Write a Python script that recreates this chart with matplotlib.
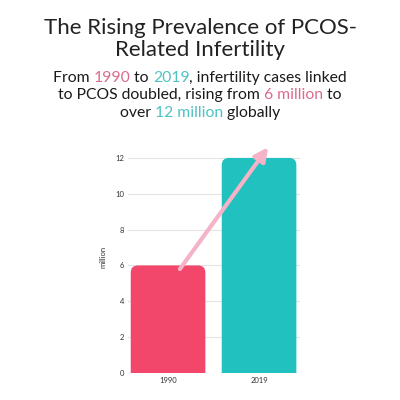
import matplotlib.pyplot as plt
from matplotlib.patches import FancyBboxPatch
from matplotlib.offsetbox import TextArea, HPacker, VPacker, AnchoredOffsetbox

years = ['1990', '2019']
cases = [6, 12]
bar_colors = ['#F2476A', '#20C1BE']
yticks = [0, 2, 4, 6, 8, 10, 12]

pink_txt = '#DB6C8C'
teal_txt = '#4DC3C3'
dark = '#1a1a1a'

plt.rcParams['font.family'] = ['Lato', 'DejaVu Sans']

fig = plt.figure(figsize=(4, 4), dpi=100)
ax = fig.add_axes([0.32, 0.0675, 0.43, 0.5825])

bars = ax.bar([0, 1], cases, width=0.82, color=bar_colors, zorder=2)
# swap plain bars for ones with rounded tops
for b in bars:
    x, w, h = b.get_x(), b.get_width(), b.get_height()
    b.set_visible(False)
    p = FancyBboxPatch((x, -1), w, h + 1, boxstyle='round,pad=0,rounding_size=0.08',
                       mutation_aspect=5, facecolor=b.get_facecolor(),
                       edgecolor='none', zorder=2)
    ax.add_patch(p)

ax.annotate('', xy=(1.1, 12.6), xytext=(0.13, 5.8),
            arrowprops=dict(arrowstyle='-|>,head_length=0.8,head_width=0.4',
                            color='#F4B3C6', lw=3, shrinkA=0, shrinkB=0),
            zorder=3)

ax.set_xlim(-0.44, 1.45)
ax.set_ylim(0, 13)
ax.set_xticks([0, 1])
ax.set_xticklabels(years)
ax.set_yticks(yticks)
ax.tick_params(length=0, labelsize=5.5, colors='#333333', pad=3)
ax.set_ylabel('million', fontsize=5.5, color='#333333', labelpad=6)
ax.grid(axis='y', color='#e3e3e3', lw=0.8, zorder=0)
ax.set_axisbelow(True)
for s in ax.spines.values():
    s.set_visible(False)

# title
fig.text(0.5, 0.902, 'The Rising Prevalence of PCOS-\nRelated Infertility', ha='center',
         va='center', fontsize=16, fontweight='normal', color='#222222', linespacing=1.12)

# subtitle with coloured words
def t(s, c=dark):
    return TextArea(s, textprops=dict(fontsize=11.3, color=c))

lines = [
    [t('From '), t('1990', pink_txt), t(' to '), t('2019', teal_txt), t(', infertility cases linked')],
    [t('to PCOS doubled, rising from '), t('6 million', pink_txt), t(' to')],
    [t('over '), t('12 million', teal_txt), t(' globally')],
]
rows = [HPacker(children=l, align='baseline', pad=0, sep=0) for l in lines]
box = VPacker(children=rows, align='center', pad=0, sep=2.5)
ab = AnchoredOffsetbox(loc='upper center', child=box, frameon=False,
                       bbox_to_anchor=(0.5, 0.8225), bbox_transform=fig.transFigure,
                       borderpad=0, pad=0)
fig.add_artist(ab)

fig.savefig('out.png', dpi=100, facecolor='white')
